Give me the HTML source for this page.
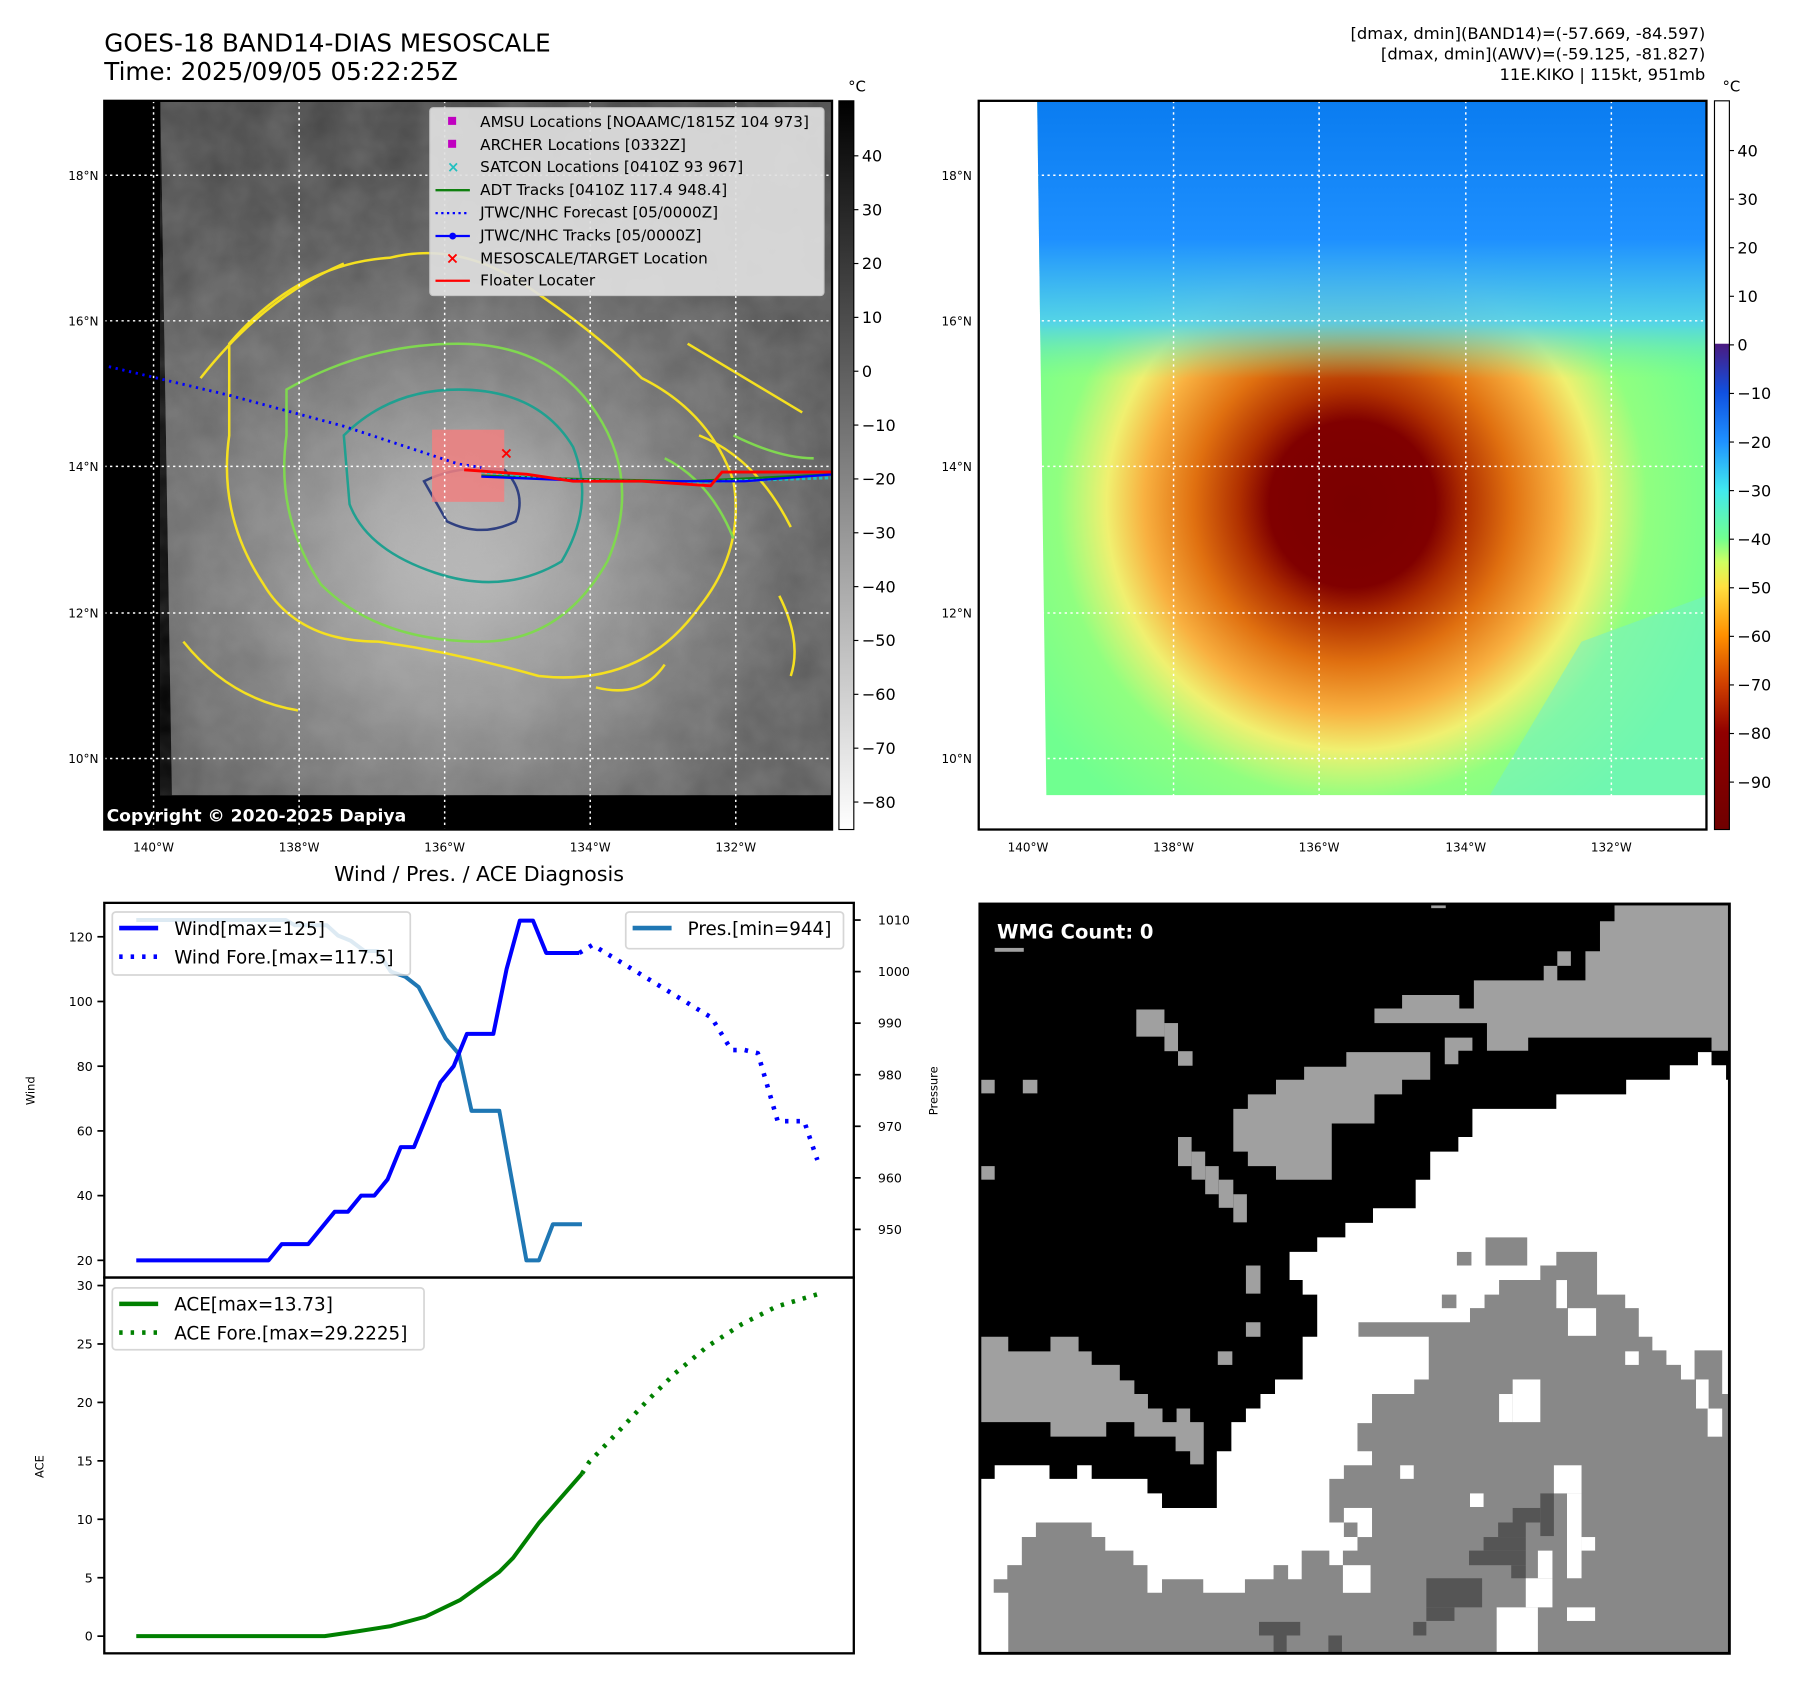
<!DOCTYPE html>
<html><head><meta charset="utf-8"><style>
html,body{margin:0;padding:0;background:#fff}
svg{display:block}
text{font-family:"DejaVu Sans","Liberation Sans",sans-serif}
</style></head><body>
<svg id="fig" width="1797" height="1690" viewBox="0 0 1568 1475" preserveAspectRatio="none" xmlns="http://www.w3.org/2000/svg">
<defs>
<radialGradient id="grayStorm" cx="400" cy="440" r="330" gradientUnits="userSpaceOnUse">
<stop offset="0" stop-color="#f4f4f4"/><stop offset="0.2" stop-color="#e2e2e2"/><stop offset="0.4" stop-color="#b8b8b8"/><stop offset="0.65" stop-color="#8a8a8a"/><stop offset="1" stop-color="#5c5c5c"/></radialGradient>
<linearGradient id="grayTop" x1="0" y1="0" x2="0" y2="1"><stop offset="0" stop-color="#444"/><stop offset="0.4" stop-color="#555" stop-opacity="0.6"/><stop offset="1" stop-color="#555" stop-opacity="0"/></linearGradient>
<radialGradient id="colStorm" cx="1180" cy="440" r="330" gradientUnits="userSpaceOnUse">
<stop offset="0" stop-color="#7a0000"/><stop offset="0.22" stop-color="#800000"/><stop offset="0.3" stop-color="#b03000"/><stop offset="0.42" stop-color="#e07010"/><stop offset="0.55" stop-color="#f8b040"/><stop offset="0.65" stop-color="#f0f070"/><stop offset="0.78" stop-color="#90ff80"/><stop offset="1" stop-color="#70ff90"/></radialGradient>
<linearGradient id="colTop" x1="0" y1="88" x2="0" y2="694" gradientUnits="userSpaceOnUse"><stop offset="0" stop-color="#0a7cf0"/><stop offset="0.2" stop-color="#1e90ff"/><stop offset="0.32" stop-color="#50d0f0" stop-opacity="0.9"/><stop offset="0.4" stop-color="#70f0a0" stop-opacity="0"/><stop offset="1" stop-color="#70f0c0" stop-opacity="0"/></linearGradient>
<linearGradient id="cbGray" x1="0" y1="0" x2="0" y2="1"><stop offset="0" stop-color="#000"/><stop offset="1" stop-color="#fff"/></linearGradient>
<linearGradient id="cbCol" x1="0" y1="300" x2="0" y2="724" gradientUnits="userSpaceOnUse">
<stop offset="0" stop-color="#4b1a80"/><stop offset="0.1" stop-color="#1050e0"/><stop offset="0.2" stop-color="#1e90ff"/><stop offset="0.3" stop-color="#40e8f0"/><stop offset="0.4" stop-color="#70ff90"/><stop offset="0.45" stop-color="#d0ff60"/><stop offset="0.5" stop-color="#ffe040"/><stop offset="0.6" stop-color="#ff9000"/><stop offset="0.7" stop-color="#d04000"/><stop offset="0.8" stop-color="#900000"/><stop offset="1" stop-color="#700000"/></linearGradient>
<filter id="tex" x="0" y="0" width="100%" height="100%"><feTurbulence type="fractalNoise" baseFrequency="0.03" numOctaves="3" seed="4"/><feColorMatrix type="matrix" values="0 0 0 0 0.5 0 0 0 0 0.5 0 0 0 0 0.5 0 0 0 0.5 0"/></filter>
</defs>

<text x="91" y="45" font-size="21.5">GOES-18 BAND14-DIAS MESOSCALE</text>
<text x="91" y="70" font-size="21.5">Time: 2025/09/05 05:22:25Z</text>
<g font-size="14.3" text-anchor="end">
<text x="1488" y="34">[dmax, dmin](BAND14)=(-57.669, -84.597)</text>
<text x="1488" y="52">[dmax, dmin](AWV)=(-59.125, -81.827)</text>
<text x="1488" y="70">11E.KIKO | 115kt, 951mb</text></g>

<g>
<rect x="91" y="88" width="635" height="636" fill="#000"/>
<polygon points="140,88 726,88 726,694 150,694" fill="url(#grayStorm)"/>
<polygon points="140,88 726,88 726,694 150,694" fill="url(#grayTop)"/>
<polygon points="140,88 726,88 726,694 150,694" filter="url(#tex)" opacity="0.6"/>
<g fill="none" stroke-width="2.2">
<path d="M200,300 Q260,230 340,225 Q400,210 460,250 Q520,290 560,330 Q620,360 640,420 Q650,480 610,530 Q560,600 470,590 Q400,570 330,560 Q260,560 230,510 Q190,450 200,380 Z" stroke="#f5e020"/>
<path d="M250,340 Q320,300 400,300 Q480,300 520,360 Q560,420 530,490 Q490,560 420,560 Q330,560 280,510 Q240,450 250,380 Z" stroke="#80d850"/>
<path d="M300,380 Q340,340 400,340 Q470,340 500,390 Q520,440 490,490 Q440,520 380,500 Q320,480 305,440 Z" stroke="#20a090"/>
<path d="M370,420 Q400,405 440,410 Q460,430 450,455 Q420,470 390,455 Z" stroke="#304080"/>
<path d="M175,330 Q230,260 300,230 M600,300 Q650,330 700,360 M160,560 Q200,610 260,620 M520,600 Q560,610 580,580 M610,380 Q660,400 690,460 M680,520 Q700,560 690,590" stroke="#f5e020"/>
<path d="M580,400 Q620,420 640,470 M640,380 Q680,400 710,400" stroke="#80d850"/>
</g>
<rect x="377" y="375" width="63" height="63" fill="#f08080" opacity="0.85"/>
<polyline points="95,320 200,345 300,372 400,405 420,408" fill="none" stroke="#0000ff" stroke-width="2.5" stroke-dasharray="2,4"/>
<polyline points="420,415 500,418 600,420 726,414" fill="none" stroke="#108010" stroke-width="2"/>
<polyline points="420,412 500,419 600,421 726,417" fill="none" stroke="#20c0c0" stroke-width="2.5" stroke-dasharray="3,2"/>
<polyline points="420,416 520,420 650,420 726,414" fill="none" stroke="#0000ff" stroke-width="2"/>
<polyline points="405,410 460,414 500,420 560,420 620,424 630,412 726,412" fill="none" stroke="#ff0000" stroke-width="2.5"/>
<text x="436" y="400" fill="#ff0000" font-size="14" font-weight="bold">×</text>
<g stroke="#fff" stroke-width="1.3" stroke-dasharray="2,3">
<line x1="134" y1="88" x2="134" y2="724"/><line x1="261" y1="88" x2="261" y2="724"/><line x1="388" y1="88" x2="388" y2="724"/><line x1="515" y1="88" x2="515" y2="724"/><line x1="642" y1="88" x2="642" y2="724"/>
<line x1="91" y1="153" x2="726" y2="153"/><line x1="91" y1="280" x2="726" y2="280"/><line x1="91" y1="407" x2="726" y2="407"/><line x1="91" y1="535" x2="726" y2="535"/><line x1="91" y1="662" x2="726" y2="662"/></g>
<rect x="91" y="88" width="635" height="636" fill="none" stroke="#000" stroke-width="2"/>
<text x="93" y="717" fill="#fff" font-size="15" font-weight="bold">Copyright © 2020-2025 Dapiya</text>
</g>
<g font-size="13.3">
<rect x="375" y="94" width="344" height="164" fill="#e0e0e0" opacity="0.92" stroke="#ccc" rx="3"/>
<rect x="391" y="102" width="7" height="7" fill="#c000c0"/><text x="419" y="111">AMSU Locations [NOAAMC/1815Z 104 973]</text>
<rect x="391" y="122" width="7" height="7" fill="#c000c0"/><text x="419" y="131">ARCHER Locations [0332Z]</text>
<text x="390" y="150" fill="#20c0c0" font-weight="bold" font-size="13">×</text><text x="419" y="150">SATCON Locations [0410Z 93 967]</text>
<line x1="380" y1="166" x2="410" y2="166" stroke="#108010" stroke-width="2"/><text x="419" y="170">ADT Tracks [0410Z 117.4 948.4]</text>
<line x1="380" y1="186" x2="410" y2="186" stroke="#0000ff" stroke-width="2" stroke-dasharray="2,3"/><text x="419" y="190">JTWC/NHC Forecast [05/0000Z]</text>
<line x1="380" y1="206" x2="410" y2="206" stroke="#0000ff" stroke-width="2"/><circle cx="395" cy="206" r="3" fill="#0000ff"/><text x="419" y="210">JTWC/NHC Tracks [05/0000Z]</text>
<text x="389" y="230" fill="#ff0000" font-weight="bold" font-size="14">×</text><text x="419" y="230">MESOSCALE/TARGET Location</text>
<line x1="380" y1="245" x2="410" y2="245" stroke="#ff0000" stroke-width="2"/><text x="419" y="249">Floater Locater</text>
</g>
<g font-size="15">
<rect x="732" y="88" width="13" height="636" fill="url(#cbGray)" stroke="#000"/>
<text x="740" y="80" font-size="13">°C</text>
<g id="cbl"></g></g>
<g font-size="10.5">
<text x="86" y="157" text-anchor="end">18°N</text><text x="86" y="284" text-anchor="end">16°N</text><text x="86" y="411" text-anchor="end">14°N</text><text x="86" y="539" text-anchor="end">12°N</text><text x="86" y="666" text-anchor="end">10°N</text>
<text x="134" y="743" text-anchor="middle">140°W</text><text x="261" y="743" text-anchor="middle">138°W</text><text x="388" y="743" text-anchor="middle">136°W</text><text x="515" y="743" text-anchor="middle">134°W</text><text x="642" y="743" text-anchor="middle">132°W</text></g>

<g>
<rect x="854" y="88" width="635" height="636" fill="#fff"/>
<polygon points="905,88 1489,88 1489,694 913,694" fill="url(#colStorm)"/>
<polygon points="905,88 1489,88 1489,694 913,694" fill="url(#colTop)"/>
<polygon points="1380,560 1489,520 1489,694 1300,694" fill="#70f0d0" opacity="0.5"/>
<g stroke="#fff" stroke-width="1.3" stroke-dasharray="2,3">
<line x1="897" y1="88" x2="897" y2="724"/><line x1="1024" y1="88" x2="1024" y2="724"/><line x1="1151" y1="88" x2="1151" y2="724"/><line x1="1279" y1="88" x2="1279" y2="724"/><line x1="1406" y1="88" x2="1406" y2="724"/>
<line x1="854" y1="153" x2="1489" y2="153"/><line x1="854" y1="280" x2="1489" y2="280"/><line x1="854" y1="407" x2="1489" y2="407"/><line x1="854" y1="535" x2="1489" y2="535"/><line x1="854" y1="662" x2="1489" y2="662"/></g>
<rect x="854" y="88" width="635" height="636" fill="none" stroke="#000" stroke-width="2"/>
</g>
<g font-size="15">
<rect x="1496" y="88" width="13" height="212" fill="#fff"/>
<rect x="1496" y="300" width="13" height="424" fill="url(#cbCol)"/>
<rect x="1496" y="88" width="13" height="636" fill="none" stroke="#000"/>
<text x="1503" y="80" font-size="13">°C</text>
<g id="cbr"></g></g>
<g font-size="10.5">
<text x="848" y="157" text-anchor="end">18°N</text><text x="848" y="284" text-anchor="end">16°N</text><text x="848" y="411" text-anchor="end">14°N</text><text x="848" y="539" text-anchor="end">12°N</text><text x="848" y="666" text-anchor="end">10°N</text>
<text x="897" y="743" text-anchor="middle">140°W</text><text x="1024" y="743" text-anchor="middle">138°W</text><text x="1151" y="743" text-anchor="middle">136°W</text><text x="1279" y="743" text-anchor="middle">134°W</text><text x="1406" y="743" text-anchor="middle">132°W</text></g>

<g>
<g transform="translate(851,785) scale(0.4232)">
<rect x="10" y="10" width="1545" height="1545" fill="#000"/>
<polygon fill="#a0a0a0" points="1318,10 1555,10 1555,312 1518,312 1518,285 1140,285 1140,312 1055,312 1055,255 823,255 823,225 880,225 880,197 998,197 998,225 1028,225 1028,167 1172,167 1172,137 1200,137 1200,167 1258,167 1258,107 1288,107 1288,45 1318,45"/>
<rect x="1200" y="107" width="28" height="30" fill="#a0a0a0"/>
<polygon fill="#a0a0a0" points="968,285 1025,285 1025,312 996,312 996,340 968,340"/>
<polygon fill="#a0a0a0" points="765,315 938,315 938,372 880,372 880,402 823,402 823,462 735,462 735,578 620,578 620,550 562,550 562,520 532,520 532,432 562,432 562,402 620,402 620,372 678,372 678,345 765,345"/>
<g fill="#a0a0a0">
<rect x="332" y="227" width="58" height="56"/><rect x="390" y="255" width="28" height="58"/><rect x="418" y="313" width="30" height="30"/>
<rect x="418" y="490" width="28" height="60"/><rect x="446" y="520" width="28" height="58"/><rect x="474" y="550" width="28" height="58"/><rect x="502" y="578" width="30" height="58"/><rect x="532" y="608" width="28" height="58"/>
<rect x="10" y="372" width="30" height="28"/><rect x="98" y="372" width="30" height="28"/><rect x="10" y="550" width="30" height="28"/><rect x="558" y="755" width="30" height="58"/><rect x="558" y="872" width="30" height="30"/><rect x="500" y="932" width="30" height="28"/>
<rect x="40" y="100" width="60" height="8"/><rect x="940" y="10" width="30" height="8"/>
</g>
<polygon fill="#a0a0a0" points="10,902 68,902 68,932 155,932 155,902 213,902 213,932 240,932 240,960 298,960 298,992 328,992 328,1020 356,1020 356,1050 386,1050 386,1078 415,1078 415,1050 443,1050 443,1078 471,1078 471,1165 443,1165 443,1138 413,1138 413,1108 328,1108 328,1078 270,1078 270,1108 155,1108 155,1078 10,1078"/>
<polygon fill="#fff" points="1490,315 1518,315 1518,342 1548,342 1548,372 1555,372 1555,1555 10,1555 10,1195 40,1195 40,1167 153,1167 153,1195 210,1195 210,1167 240,1167 240,1195 355,1195 355,1225 385,1225 385,1255 498,1255 498,1138 528,1138 528,1078 558,1078 558,1050 588,1050 588,1020 618,1020 618,990 675,990 675,902 705,902 705,815 675,815 675,785 648,785 648,727 705,727 705,697 763,697 763,667 820,667 820,637 908,637 908,578 938,578 938,520 996,520 996,490 1025,490 1025,432 1198,432 1198,402 1342,402 1342,372 1432,372 1432,342 1490,342"/>
<polygon fill="#888" points="68,1555 68,1430 38,1430 38,1402 66,1402 66,1373 96,1373 96,1315 125,1315 125,1285 240,1285 240,1315 268,1315 268,1343 326,1343 326,1373 355,1373 355,1430 385,1430 385,1402 470,1402 470,1430 556,1430 556,1402 615,1402 615,1373 645,1373 645,1402 673,1402 673,1343 730,1343 730,1373 758,1373 758,1343 788,1343 788,1315 760,1315 760,1285 730,1285 730,1195 760,1195 760,1167 818,1167 818,1138 788,1138 788,1080 818,1080 818,1020 905,1020 905,990 935,990 935,902 790,902 790,872 1020,872 1020,843 1050,843 1050,815 1080,815 1080,785 1165,785 1165,755 1198,755 1198,727 1282,727 1282,815 1340,815 1340,843 1368,843 1368,902 1396,902 1396,930 1425,930 1425,960 1455,960 1455,990 1483,990 1483,930 1540,930 1540,1020 1555,1020 1555,1555"/>
<g fill="#888"><rect x="1052" y="697" width="86" height="58"/><rect x="993" y="727" width="30" height="28"/><rect x="962" y="815" width="30" height="28"/></g>
<g fill="#fff"><rect x="1108" y="990" width="57" height="88"/><rect x="1080" y="1020" width="28" height="58"/><rect x="1340" y="932" width="28" height="28"/><rect x="876" y="1167" width="28" height="28"/><rect x="1020" y="1225" width="28" height="28"/><rect x="1193" y="1167" width="57" height="58"/><rect x="1220" y="1225" width="30" height="175"/><rect x="1510" y="1050" width="30" height="58"/><rect x="1486" y="990" width="26" height="60"/><rect x="1198" y="785" width="22" height="58"/><rect x="1222" y="843" width="58" height="57"/><rect x="1220" y="1460" width="58" height="28"/><rect x="1135" y="1400" width="55" height="60"/><rect x="1075" y="1460" width="85" height="95"/><rect x="760" y="1255" width="58" height="30"/><rect x="788" y="1285" width="30" height="30"/><rect x="758" y="1373" width="57" height="57"/><rect x="1160" y="1343" width="30" height="57"/><rect x="1250" y="1315" width="28" height="28"/></g>
<g fill="#555"><rect x="1165" y="1225" width="28" height="88"/><rect x="1108" y="1255" width="57" height="30"/><rect x="1078" y="1285" width="57" height="30"/><rect x="1048" y="1315" width="87" height="28"/><rect x="1018" y="1343" width="117" height="30"/><rect x="1105" y="1373" width="30" height="27"/><rect x="930" y="1400" width="115" height="60"/><rect x="930" y="1460" width="58" height="28"/><rect x="585" y="1490" width="85" height="28"/><rect x="615" y="1518" width="27" height="37"/><rect x="728" y="1518" width="28" height="37"/><rect x="903" y="1490" width="27" height="28"/></g>
</g>
<rect x="855" y="789" width="654" height="654" fill="none" stroke="#000" stroke-width="2.5"/>
<text x="870" y="819" fill="#fff" font-size="17" font-weight="bold">WMG Count: 0</text>
</g>

<text x="418" y="769" font-size="18" text-anchor="middle">Wind / Pres. / ACE Diagnosis</text>
<g id="charts"></g>
</svg>
<script>
const windT = [0,20,22,26,30,32,34,36,38,40,42,46,48,50,54,56,58,60,62,67];
const windV = [20,20,25,25,35,35,40,40,45,55,55,75,80,90,90,110,125,125,115,115];
const windFT = [67,69,87,90,92,94,97,101,103];
const windFV = [115,117.5,95,85,85,84,63,63,51];
const presT = [0,22.6,24,28.8,30.5,32.4,34.5,36.5,38.5,40.7,42.7,46.8,48.8,50.7,54.9,59,60.9,63,67.4];
const presV = [1010,1010,1009,1009,1007,1006,1004,1004,1000,999,997,987,984,973,973,944,944,951,951];
const aceT = [0,28.5,33.3,38.5,43.7,49,54.9,57,60.9,67.4];
const aceV = [0,0,0.4,0.86,1.66,3.1,5.5,6.7,9.7,13.9];
const aceFT = [67.4,68.5,72.9,77.2,81.5,86.4,91.6,96.8,103.3];
const aceFV = [13.9,14.9,17.5,20.1,22.5,24.8,26.7,28.2,29.3];
const windTicks = [20,40,60,80,100,120];
const presTicks = [950,960,970,980,990,1000,1010];
const aceTicks = [0,5,10,15,20,25,30];
const cbLeftTicks = [40,30,20,10,0,-10,-20,-30,-40,-50,-60,-70,-80];
const cbRightTicks = [40,30,20,10,0,-10,-20,-30,-40,-50,-60,-70,-80,-90];

const NS='http://www.w3.org/2000/svg';
function mk(tag, attrs, parent){const e=document.createElementNS(NS,tag);for(const k in attrs)e.setAttribute(k,attrs[k]);parent.appendChild(e);return e;}
const xS = t => 118.9 + 5.77*t;
const yWind = v => 1100 - (v-20)*(1100-817.6)/100;
const yPres = v => 1073 - (v-950)*(1073-803)/60;
const yAce = v => 1428 - v*(1428-1122)/30;
const C = document.getElementById('charts');

function line(ts, vs, yf, color, w, dash, name){
  const p = mk('polyline',{points: ts.map((t,i)=>xS(t)+','+yf(vs[i])).join(' '), fill:'none', stroke:color, 'stroke-width':w, 'stroke-linejoin':'round'}, C);
  if(dash) p.setAttribute('stroke-dasharray',dash);
  
  
}
const f1 = mk('rect',{x:91,y:788,width:654,height:327,fill:'none',stroke:'#000','stroke-width':2},C);


const f2 = mk('rect',{x:91,y:1115,width:654,height:328,fill:'none',stroke:'#000','stroke-width':2},C);


windTicks.forEach(v=>{const y=yWind(v);mk('line',{x1:85,y1:y,x2:91,y2:y,stroke:'#000','stroke-width':1.5},C);
  const t=mk('text',{x:81,y:y+4,'font-size':11,'text-anchor':'end'},C);t.textContent=v;
  
  });
presTicks.forEach(v=>{const y=yPres(v);mk('line',{x1:745,y1:y,x2:751,y2:y,stroke:'#000','stroke-width':1.5},C);
  const t=mk('text',{x:766,y:y+4,'font-size':11},C);t.textContent=v;
  
  });
aceTicks.forEach(v=>{const y=yAce(v);mk('line',{x1:85,y1:y,x2:91,y2:y,stroke:'#000','stroke-width':1.5},C);
  const t=mk('text',{x:81,y:y+4,'font-size':11,'text-anchor':'end'},C);t.textContent=v;
  
  });
[['Wind',30,952,'wind-axis-title'],['Pressure',818,952,'pressure-axis-title'],['ACE',38,1280,'ace-axis-title']].forEach(a=>{
  const t=mk('text',{x:a[1],y:a[2],'font-size':10,'text-anchor':'middle',transform:'rotate(-90 '+a[1]+' '+a[2]+')'},C);t.textContent=a[0];
  
  });
line(presT,presV,yPres,'#1f77b4',3.5,null,'pressure-line');
line(windT,windV,yWind,'#0000ff',3.5,null,'wind-line');
line(windFT,windFV,yWind,'#0000ff',4,'3,7','wind-forecast-line');
line(aceT,aceV,yAce,'#008000',3.5,null,'ace-line');
line(aceFT,aceFV,yAce,'#008000',4,'3,7','ace-forecast-line');
function legend(x,y,w,h,items,name){
  const g=mk('g',{},C);
  
  
  mk('rect',{x:x,y:y,width:w,height:h,fill:'#fff',opacity:0.85,stroke:'#d0d0d0','stroke-width':1.5,rx:3},g);
  items.forEach((it,i)=>{const yy=y+16+i*25;
    const l=mk('line',{x1:x+6,y1:yy-2,x2:x+40,y2:yy-2,stroke:it[1],'stroke-width':4},g);
    if(it[2])l.setAttribute('stroke-dasharray','3,7');
    const t=mk('text',{x:x+54,y:yy+4,'font-size':16},g);t.textContent=it[0];});
}
legend(98,796,260,55,[['Wind[max=125]','#0000ff',0],['Wind Fore.[max=117.5]','#0000ff',1]],'wind-legend');
legend(546,796,190,32,[['Pres.[min=944]','#1f77b4',0]],'pressure-legend');
legend(98,1124,272,54,[['ACE[max=13.73]','#008000',0],['ACE Fore.[max=29.2225]','#008000',1]],'ace-legend');
const cbl=document.getElementById('cbl');
cbLeftTicks.forEach(v=>{const y=324-v*4.7;mk('line',{x1:745,y1:y,x2:749,y2:y,stroke:'#000'},cbl);
  const t=mk('text',{x:752,y:y+5,'font-size':14},cbl);t.textContent=(v<0?'\u2212'+(-v):v);
  
  });
const cbr=document.getElementById('cbr');
cbRightTicks.forEach(v=>{const y=301-v*4.24;mk('line',{x1:1509,y1:y,x2:1513,y2:y,stroke:'#000'},cbr);
  const t=mk('text',{x:1516,y:y+5,'font-size':14},cbr);t.textContent=(v<0?'\u2212'+(-v):v);
  
  });
</script>
</body></html>
